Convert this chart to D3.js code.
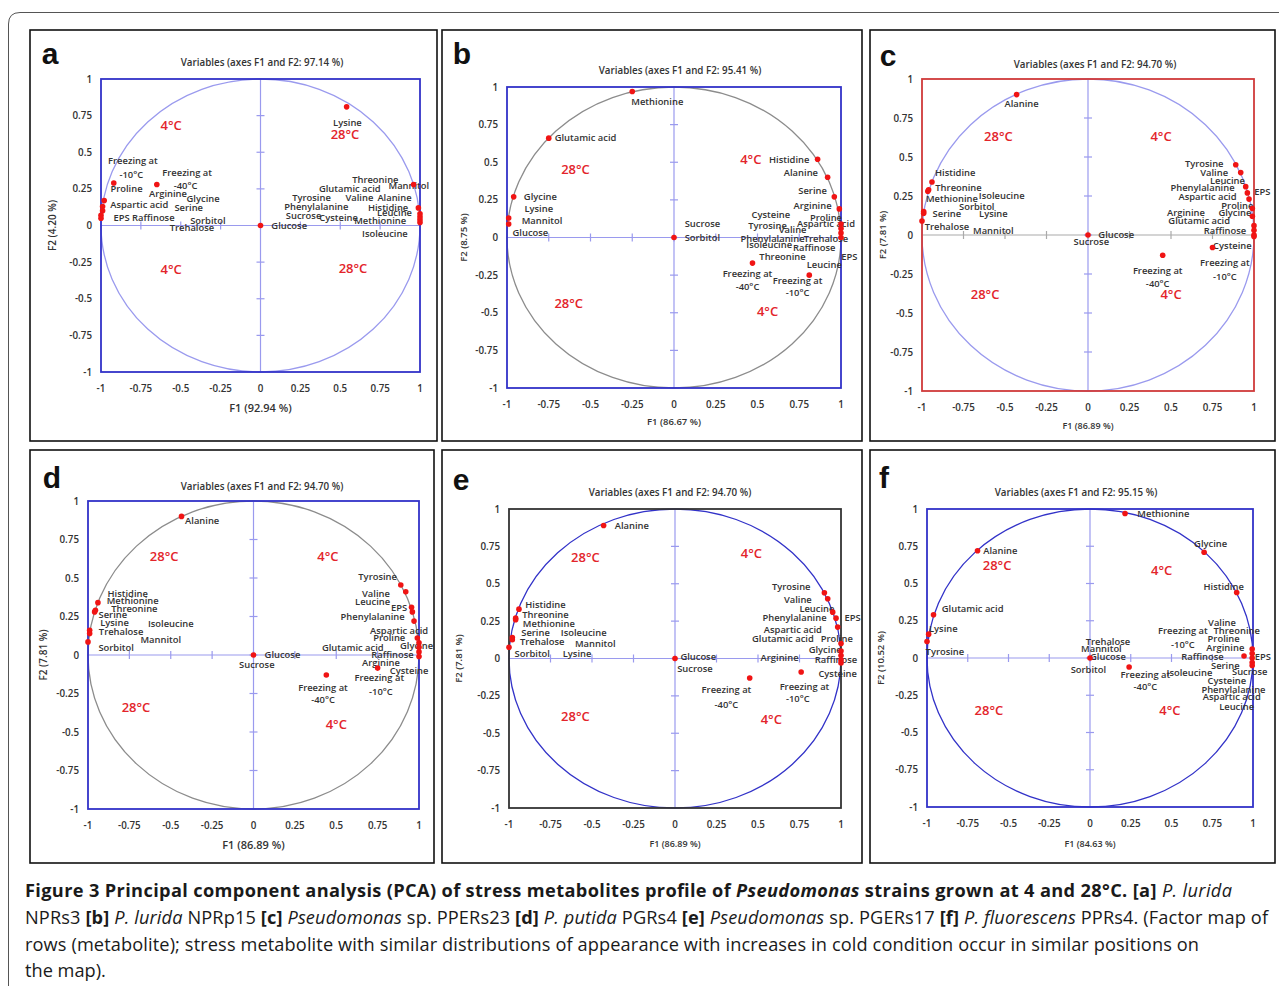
<!DOCTYPE html>
<html>
<head>
<meta charset="utf-8">
<script src="https://cdn.jsdelivr.net/npm/d3@7"></script>
<style>
  body { margin: 0; background: #fff; }
  svg { display: block; }
  .lbl { font-family: "Open Sans", sans-serif; font-weight: 600; fill: #333; }
</style>
</head>
<body>
<script>
// tick values and labels shared by all six maps
var tickVals = [-1, -0.75, -0.5, -0.25, 0, 0.25, 0.5, 0.75, 1];
var tickLabels = ["-1", "-0.75", "-0.5", "-0.25", "0", "0.25", "0.5", "0.75", "1"];

var panelLetters = ["a", "b", "c", "d", "e", "f"];
var totalVar = ["97.14 %", "95.41 %", "94.70 %", "94.70 %", "94.70 %", "95.15 %"];
var f1Var = ["92.94 %", "86.67 %", "86.89 %", "86.89 %", "86.89 %", "84.63 %"];
var f2Var = ["4.20 %", "8.75 %", "7.81 %", "7.81 %", "7.81 %", "10.52 %"];

// red dots (F1, F2)
var pointsA = [[0.54,0.81],[-0.92,0.29],[-0.65,0.28],[0,0],[-0.98,0.17],[-0.99,0.13],[-0.99,0.10],[-1.0,0.07],[-1.0,0.05],
  [0.96,0.28],[0.99,0.12],[1.0,0.08],[1.0,0.06],[1.0,0.04],[1.0,0.02]];
var pointsB = [[-0.25,0.97],[-0.75,0.66],[-0.96,0.27],[-0.99,0.13],[-0.99,0.09],[0,0],[0.86,0.52],[0.92,0.40],[0.96,0.27],
  [0.99,0.19],[1.0,0.09],[1.0,0.06],[1.0,0.03],[1.0,0.0],[0.81,-0.25],[0.47,-0.17]];
var pointsC = [[-0.43,0.90],[-0.94,0.34],[-0.96,0.29],[-0.965,0.28],[-0.99,0.15],[-0.99,0.14],[-1.0,0.09],[0,0],[0.89,0.45],
  [0.92,0.40],[0.95,0.31],[0.96,0.27],[0.97,0.23],[0.99,0.17],[0.99,0.12],[1.0,0.06],[1.0,0.03],[1.0,0.0],[1.0,-0.01],
  [0.75,-0.08],[0.45,-0.13]];
var pointsD = [[-0.435,0.90],[-0.94,0.34],[-0.96,0.28],[-0.955,0.29],[-0.99,0.16],[-0.99,0.14],[-1.0,0.085],[0,0],[0.89,0.455],
  [0.92,0.41],[0.955,0.31],[0.96,0.28],[0.97,0.22],[0.99,0.11],[1.0,0.08],[1.0,0.05],[1.0,0.02],[1.0,-0.01],[0.75,-0.085],[0.44,-0.13]];
var pointsE = [[-0.43,0.89],[-0.94,0.33],[-0.96,0.27],[-0.96,0.26],[-0.98,0.14],[-0.98,0.125],[-1.0,0.075],[0,0],[0.90,0.44],
  [0.92,0.40],[0.95,0.31],[0.97,0.27],[0.98,0.21],[1.0,0.10],[1.0,0.05],[1.0,0.02],[1.0,-0.01],[1.0,-0.03],[0.76,-0.09],[0.45,-0.13]];
var pointsF = [[0.215,0.97],[0.70,0.71],[-0.69,0.72],[-0.96,0.29],[-0.99,0.16],[-1.0,0.11],[0,0],[0.24,-0.06],[0.90,0.44],
  [0.945,0.013],[0.995,0.06],[0.995,0.03],[0.995,0.0],[0.995,-0.03],[0.995,-0.05]];

// metabolite labels [text, F1, F2]
var labelsA = [["Lysine",0.545,0.70],["Freezing at",-0.80,0.44],["-10°C",-0.81,0.35],["Freezing at",-0.46,0.36],["-40°C",-0.47,0.27],
  ["Proline",-0.84,0.25],["Arginine",-0.58,0.22],["Glycine",-0.36,0.18],["Aspartic acid",-0.76,0.14],["Serine",-0.45,0.12],
  ["EPS Raffinose",-0.73,0.055],["Sorbitol",-0.33,0.034],["Trehalose",-0.43,-0.014],["Glucose",0.18,0],["Threonine",0.72,0.31],
  ["Mannitol",0.93,0.27],["Glutamic acid",0.56,0.25],["Tyrosine",0.32,0.19],["Valine",0.62,0.19],["Alanine",0.84,0.19],
  ["Phenylalanine",0.35,0.13],["Histidine",0.80,0.12],["Leucine",0.84,0.09],["Sucrose",0.27,0.07],["Cysteine",0.49,0.055],
  ["Methionine",0.75,0.03],["Isoleucine",0.78,-0.055]];
var labelsB = [["Methionine",-0.10,0.90],["Glutamic acid",-0.53,0.66],["Glycine",-0.80,0.27],["Lysine",-0.81,0.19],["Mannitol",-0.79,0.11],
  ["Glucose",-0.86,0.03],["Sucrose",0.17,0.09],["Sorbitol",0.17,0],["Histidine",0.69,0.52],["Alanine",0.76,0.43],["Serine",0.83,0.31],
  ["Arginine",0.83,0.21],["Proline",0.91,0.13],["Aspartic acid",0.91,0.09],["Cysteine",0.58,0.15],["Tyrosine",0.56,0.08],
  ["Valine",0.71,0.05],["Phenylalanine",0.59,-0.01],["Trehalose",0.91,-0.01],["Isoleucine",0.57,-0.05],["Raffinose",0.84,-0.07],
  ["Threonine",0.65,-0.13],["EPS",1.05,-0.13],["Leucine",0.90,-0.18],["Freezing at",0.44,-0.24],["-40°C",0.44,-0.33],
  ["Freezing at",0.74,-0.29],["-10°C",0.74,-0.37]];
var labelsC = [["Alanine",-0.40,0.84],["Histidine",-0.80,0.40],["Threonine",-0.78,0.30],["Methionine",-0.82,0.23],["Isoleucine",-0.52,0.25],
  ["Sorbitol",-0.67,0.18],["Serine",-0.85,0.135],["Lysine",-0.57,0.135],["Trehalose",-0.85,0.05],["Mannitol",-0.57,0.03],
  ["Glucose",0.17,0],["Sucrose",0.02,-0.04],["Tyrosine",0.70,0.455],["Valine",0.76,0.40],["Leucine",0.84,0.35],
  ["Phenylalanine",0.69,0.30],["EPS",1.05,0.28],["Aspartic acid",0.72,0.245],["Proline",0.90,0.19],["Arginine",0.59,0.14],
  ["Glycine",0.885,0.14],["Glutamic acid",0.67,0.09],["Raffinose",0.825,0.025],["Cysteine",0.87,-0.07],["Freezing at",0.825,-0.18],
  ["-10°C",0.825,-0.27],["Freezing at",0.42,-0.23],["-40°C",0.42,-0.31]];
var labelsD = [["Alanine",-0.31,0.87],["Histidine",-0.76,0.40],["Methionine",-0.73,0.35],["Threonine",-0.72,0.30],["Serine",-0.85,0.26],
  ["Lysine",-0.84,0.21],["Isoleucine",-0.50,0.20],["Trehalose",-0.80,0.15],["Mannitol",-0.56,0.10],["Sorbitol",-0.83,0.05],
  ["Glucose",0.175,0],["Sucrose",0.02,-0.065],["Tyrosine",0.75,0.51],["Valine",0.74,0.40],["Leucine",0.72,0.345],["EPS",0.88,0.305],
  ["Phenylalanine",0.72,0.25],["Aspartic acid",0.88,0.155],["Proline",0.82,0.11],["Glutamic acid",0.60,0.045],["Glycine",0.985,0.06],
  ["Raffinose",0.84,0.0],["Arginine",0.77,-0.05],["Cysteine",0.94,-0.10],["Freezing at",0.76,-0.15],["-10°C",0.77,-0.24],
  ["Freezing at",0.42,-0.21],["-40°C",0.42,-0.29]];
var labelsE = [["Alanine",-0.26,0.89],["Histidine",-0.78,0.36],["Threonine",-0.78,0.29],["Methionine",-0.76,0.23],["Serine",-0.84,0.17],
  ["Isoleucine",-0.55,0.17],["Trehalose",-0.80,0.11],["Mannitol",-0.48,0.10],["Sorbitol",-0.86,0.03],["Lysine",-0.59,0.03],
  ["Glucose",0.14,0.01],["Sucrose",0.12,-0.07],["Tyrosine",0.70,0.48],["Valine",0.74,0.39],["Leucine",0.855,0.335],
  ["Phenylalanine",0.72,0.27],["EPS",1.07,0.27],["Aspartic acid",0.71,0.19],["Glutamic acid",0.65,0.13],["Proline",0.975,0.13],
  ["Glycine",0.905,0.06],["Arginine",0.63,0.007],["Raffinose",0.97,-0.007],["Cysteine",0.98,-0.10],["Freezing at",0.78,-0.19],
  ["-10°C",0.74,-0.27],["Freezing at",0.31,-0.21],["-40°C",0.31,-0.31]];
var labelsF = [["Methionine",0.45,0.97],["Glycine",0.74,0.77],["Alanine",-0.55,0.72],["Glutamic acid",-0.72,0.33],["Lysine",-0.90,0.195],
  ["Tyrosine",-0.89,0.04],["Trehalose",0.11,0.11],["Mannitol",0.07,0.06],["Glucose",0.11,0.007],["Sorbitol",-0.01,-0.08],
  ["Freezing at",0.34,-0.11],["-40°C",0.34,-0.19],["Isoleucine",0.61,-0.10],["Histidine",0.82,0.48],["Valine",0.81,0.24],
  ["Threonine",0.90,0.18],["Freezing at",0.57,0.18],["-10°C",0.57,0.087],["Proline",0.82,0.13],["Arginine",0.83,0.067],
  ["Raffinose",0.69,0.007],["EPS",1.06,0.007],["Serine",0.83,-0.054],["Sucrose",0.98,-0.094],["Cysteine",0.84,-0.154],
  ["Phenylalanine",0.88,-0.21],["Aspartic acid",0.87,-0.26],["Leucine",0.90,-0.33]];

// red temperature notes [text, F1, F2]
var tempsA = [["4°C",-0.56,0.68],["28°C",0.53,0.62],["4°C",-0.56,-0.30],["28°C",0.58,-0.29]];
var tempsB = [["28°C",-0.59,0.45],["4°C",0.46,0.52],["28°C",-0.63,-0.44],["4°C",0.56,-0.49]];
var tempsC = [["28°C",-0.54,0.63],["4°C",0.44,0.63],["28°C",-0.62,-0.38],["4°C",0.50,-0.38]];
var tempsD = [["28°C",-0.54,0.64],["4°C",0.45,0.64],["28°C",-0.71,-0.34],["4°C",0.50,-0.45]];
var tempsE = [["28°C",-0.54,0.675],["4°C",0.46,0.70],["28°C",-0.60,-0.39],["4°C",0.58,-0.41]];
var tempsF = [["28°C",-0.57,0.62],["4°C",0.44,0.59],["28°C",-0.62,-0.35],["4°C",0.49,-0.35]];

var W = 1279, H = 986;
var svg = d3.select("body").append("svg").attr("width", W).attr("height", H);

// outer rounded border of the figure
svg.append("path")
  .attr("d", "M8.5," + H + " L8.5,24 Q8.5,12.5 20,12.5 L" + W + ",12.5")
  .attr("fill", "none").attr("stroke", "#555").attr("stroke-width", 1);

var blue = "#3232c8", lightBlue = "#9a9aee", grey = "#8c8c8c", red = "#e3242b";

var panels = [
  {frame:[30,30,437,441], plot:[101,79,420,372], box:blue, circ:lightBlue, axX:lightBlue, letter:[50,64], titleX:262, titleY:66,
   xlabY:412, xlabS:11, ylabX:52, ylabS:10, pts:pointsA, lbl:labelsA, tmp:tempsA},
  {frame:[442,30,862,441], plot:[507,87,841,388], box:blue, circ:grey, axX:lightBlue, letter:[462,64], titleX:680, titleY:74,
   xlabY:425, xlabS:9.5, ylabX:464, ylabS:9.5, pts:pointsB, lbl:labelsB, tmp:tempsB},
  {frame:[870,30,1275,441], plot:[922,79,1254,391], box:"#d03a3a", circ:lightBlue, axX:"#aaa", letter:[888,66], titleX:1095, titleY:68,
   xlabY:429, xlabS:9, ylabX:883, ylabS:9.5, pts:pointsC, lbl:labelsC, tmp:tempsC},
  {frame:[30,450,434,863], plot:[88,501,419,809], box:blue, circ:grey, axX:lightBlue, letter:[52,488], titleX:262, titleY:490,
   xlabY:849, xlabS:11, ylabX:43, ylabS:10, pts:pointsD, lbl:labelsD, tmp:tempsD},
  {frame:[442,450,862,863], plot:[509,509,841,808], box:"#333", circ:blue, axX:lightBlue, letter:[461,490], titleX:670, titleY:496,
   xlabY:847, xlabS:9, ylabX:459, ylabS:9.5, pts:pointsE, lbl:labelsE, tmp:tempsE},
  {frame:[870,450,1275,863], plot:[927,509,1253,807], box:blue, circ:blue, axX:lightBlue, letter:[884,488], titleX:1076, titleY:496,
   xlabY:847, xlabS:9, ylabX:881, ylabS:9.5, pts:pointsF, lbl:labelsF, tmp:tempsF}
];

panels.forEach(function(p, i) { drawPanel(p, i); });

function drawPanel(p, i) {
  var g = svg.append("g");
  var x = d3.scaleLinear().domain([-1, 1]).range([p.plot[0], p.plot[2]]);
  var y = d3.scaleLinear().domain([-1, 1]).range([p.plot[3], p.plot[1]]);

  g.append("rect")
    .attr("x", p.frame[0]).attr("y", p.frame[1])
    .attr("width", p.frame[2] - p.frame[0]).attr("height", p.frame[3] - p.frame[1])
    .attr("fill", "none").attr("stroke", "#111").attr("stroke-width", 1.6);

  g.append("text").attr("x", p.letter[0]).attr("y", p.letter[1])
    .attr("text-anchor", "middle")
    .style("font-family", "'Liberation Sans', Arial, sans-serif").style("font-weight", "bold")
    .style("font-size", "30px").style("fill", "#111")
    .text(panelLetters[i]);

  g.append("text").attr("class", "lbl")
    .attr("x", p.titleX).attr("y", p.titleY).attr("text-anchor", "middle")
    .style("font-size", "9.8px")
    .text("Variables (axes F1 and F2: " + totalVar[i] + ")");

  // axes through the origin
  g.append("line").attr("x1", x(-1)).attr("x2", x(1)).attr("y1", y(0)).attr("y2", y(0))
    .attr("stroke", p.axX).attr("stroke-width", 1.2);
  g.append("line").attr("x1", x(0)).attr("x2", x(0)).attr("y1", y(-1)).attr("y2", y(1))
    .attr("stroke", lightBlue).attr("stroke-width", 1.2);

  g.selectAll(".tx").data(tickVals.filter(function(d) { return d > -1 && d < 1; }))
    .enter().append("line")
      .attr("x1", function(d) { return x(d); }).attr("x2", function(d) { return x(d); })
      .attr("y1", y(0) - 4).attr("y2", y(0) + 4)
      .attr("stroke", p.axX).attr("stroke-width", 1.2);
  g.selectAll(".ty").data(tickVals.filter(function(d) { return d > -1 && d < 1; }))
    .enter().append("line")
      .attr("y1", function(d) { return y(d); }).attr("y2", function(d) { return y(d); })
      .attr("x1", x(0) - 4).attr("x2", x(0) + 4)
      .attr("stroke", lightBlue).attr("stroke-width", 1.2);

  // correlation circle
  g.append("ellipse")
    .attr("cx", x(0)).attr("cy", y(0))
    .attr("rx", x(1) - x(0)).attr("ry", y(0) - y(1))
    .attr("fill", "none").attr("stroke", p.circ).attr("stroke-width", 1.3);

  g.append("rect")
    .attr("x", x(-1)).attr("y", y(1))
    .attr("width", x(1) - x(-1)).attr("height", y(-1) - y(1))
    .attr("fill", "none").attr("stroke", p.box).attr("stroke-width", 1.8);

  // tick labels
  g.selectAll(".xl").data(tickVals).enter().append("text").attr("class", "lbl")
    .attr("x", function(d) { return x(d); }).attr("y", y(-1) + 20)
    .attr("text-anchor", "middle").style("font-size", "9.8px")
    .text(function(d, k) { return tickLabels[k]; });
  g.selectAll(".yl").data(tickVals).enter().append("text").attr("class", "lbl")
    .attr("x", x(-1) - 9).attr("y", function(d) { return y(d) + 3.5; })
    .attr("text-anchor", "end").style("font-size", "9.8px")
    .text(function(d, k) { return tickLabels[k]; });

  g.append("text").attr("class", "lbl")
    .attr("x", x(0)).attr("y", p.xlabY).attr("text-anchor", "middle")
    .style("font-size", p.xlabS + "px")
    .text("F1 (" + f1Var[i] + ")");
  g.append("text").attr("class", "lbl")
    .attr("transform", "translate(" + p.ylabX + "," + y(0) + ") rotate(-90)")
    .attr("text-anchor", "middle").attr("dy", "0.35em")
    .style("font-size", p.ylabS + "px")
    .text("F2 (" + f2Var[i] + ")");

  // metabolite labels
  g.selectAll(".ml").data(p.lbl).enter().append("text").attr("class", "lbl")
    .attr("x", function(d) { return x(d[1]); }).attr("y", function(d) { return y(d[2]); })
    .attr("dy", "0.35em").attr("text-anchor", "middle")
    .style("font-size", "9.4px")
    .text(function(d) { return d[0]; });

  g.selectAll(".tl").data(p.tmp).enter().append("text")
    .attr("x", function(d) { return x(d[1]); }).attr("y", function(d) { return y(d[2]); })
    .attr("dy", "0.35em").attr("text-anchor", "middle")
    .style("font-family", "'Open Sans', sans-serif").style("font-weight", "600")
    .style("font-size", "13px").style("fill", red)
    .text(function(d) { return d[0]; });

  g.selectAll(".pt").data(p.pts).enter().append("circle")
    .attr("cx", function(d) { return x(d[0]); }).attr("cy", function(d) { return y(d[1]); })
    .attr("r", 2.8).attr("fill", "#f01414");
}

// caption
var capLines = [
  [["Figure 3 Principal component analysis (PCA) of stress metabolites profile of ", "b"], ["Pseudomonas", "bi"],
   [" strains grown at 4 and 28°C. [a] ", "b"], ["P. lurida", "i"]],
  [["NPRs3 ", ""], ["[b]", "b"], [" ", ""], ["P. lurida", "i"], [" NPRp15 ", ""], ["[c]", "b"], [" ", ""], ["Pseudomonas", "i"],
   [" sp. PPERs23 ", ""], ["[d]", "b"], [" ", ""], ["P. putida", "i"], [" PGRs4 ", ""], ["[e]", "b"], [" ", ""], ["Pseudomonas", "i"],
   [" sp. PGERs17 ", ""], ["[f]", "b"], [" ", ""], ["P. fluorescens", "i"], [" PPRs4. (Factor map of", ""]],
  [["rows (metabolite); stress metabolite with similar distributions of appearance with increases in cold condition occur in similar positions on", ""]],
  [["the map).", ""]]
];
var capY = [897, 924, 951, 977];
var capLen = [1207, 1243, 1174, null];

capLines.forEach(function(line, k) {
  var t = svg.append("text").attr("x", 25).attr("y", capY[k])
    .style("font-family", "'Open Sans', sans-serif").style("font-size", "18.2px").style("fill", "#1a1a1a")
    .attr("xml:space", "preserve");
  if (capLen[k]) t.attr("textLength", capLen[k]).attr("lengthAdjust", "spacing");
  line.forEach(function(seg) {
    t.append("tspan")
      .style("font-weight", seg[1].indexOf("b") >= 0 ? "bold" : "normal")
      .style("font-style", seg[1].indexOf("i") >= 0 ? "italic" : "normal")
      .text(seg[0]);
  });
});
</script>
</body>
</html>
